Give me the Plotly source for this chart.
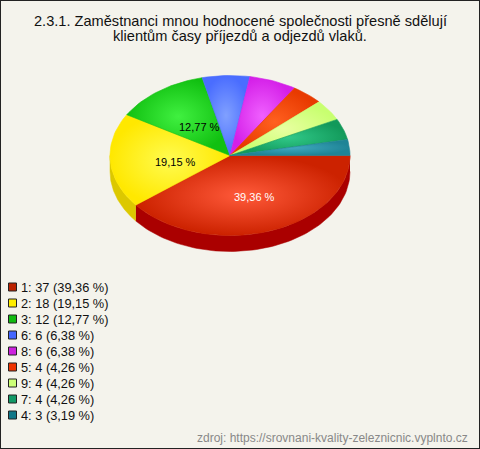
import numpy as np
import plotly.graph_objects as go

# ---- data ----
labels = ["1", "2", "3", "6", "8", "5", "9", "7", "4"]
counts = [37, 18, 12, 6, 6, 4, 4, 4, 3]
pct_text = ["39,36 %", "19,15 %", "12,77 %", "6,38 %", "6,38 %",
            "4,26 %", "4,26 %", "4,26 %", "3,19 %"]
top_colors = ["#cc2200", "#ffe800", "#11c011", "#4a6dff", "#d41fe8",
              "#e83a00", "#c8ff70", "#12995a", "#1f8496"]
light_colors = ["#ff5a3a", "#fffb50", "#40f040", "#80a0ff", "#f060ff",
                "#ff6020", "#e8ffa0", "#30c888", "#40aac0"]
side_colors = ["#aa0000", "#dcc800", "#0a900a", "#3050cc", "#a010b8",
               "#b82800", "#a0d050", "#0a7040", "#106070"]
legend_colors = ["#bb2200", "#ffee00", "#11bb11", "#4466ff", "#cc22dd",
                 "#ee3300", "#ccff77", "#119966", "#117788"]
title_lines = ["2.3.1. Zaměstnanci mnou hodnocené společnosti přesně sdělují",
               "klientům časy příjezdů a odjezdů vlaků."]
source_text = "zdroj: https://srovnani-kvality-zeleznicnic.vyplnto.cz"

# ---- geometry (pixel space) ----
W, H = 480, 449
cx, cy, rx, ry, depth = 230, 155.5, 120, 80, 16

vals = np.array(counts, dtype=float)
frac = vals / vals.sum()
ends = np.cumsum(frac) * 2 * np.pi
starts = ends - frac * 2 * np.pi

fig = go.Figure()

# side walls (front half only)
for i in range(len(counts)):
    a1, a2 = max(starts[i], 0), min(ends[i], np.pi)
    if a2 <= a1:
        continue
    t = np.linspace(a1, a2, 80)
    xs = cx + rx * np.cos(t)
    ys = cy + ry * np.sin(t)
    px = np.concatenate([xs, xs[::-1]])
    py = np.concatenate([ys, ys[::-1] + depth])
    fig.add_trace(go.Scatter(x=px, y=py, mode="lines", fill="toself",
                             fillcolor=side_colors[i],
                             line=dict(color=side_colors[i], width=0.5),
                             hoverinfo="skip", showlegend=False))

# top faces
for i in range(len(counts)):
    t = np.linspace(starts[i], ends[i], max(8, int(200 * frac[i])))
    px = np.concatenate([[cx], cx + rx * np.cos(t), [cx]])
    py = np.concatenate([[cy], cy + ry * np.sin(t), [cy]])
    fig.add_trace(go.Scatter(
        x=px, y=py, mode="lines", fill="toself",
        fillcolor=top_colors[i],
        fillgradient=dict(type="radial",
                          colorscale=[[0, light_colors[i]], [1, top_colors[i]]]),
        line=dict(color=top_colors[i], width=0.6),
        hoverinfo="skip", showlegend=False))

# percent labels on big slices
for i in range(len(counts)):
    if frac[i] < 0.1:
        continue
    m = (starts[i] + ends[i]) / 2
    fig.add_annotation(x=cx + 0.5 * rx * np.cos(m) + 5,
                       y=cy + 0.5 * ry * np.sin(m) + 4,
                       text=pct_text[i], showarrow=False,
                       font=dict(family="Liberation Sans, Arial", size=11,
                                 color="white" if i == 0 else "black"))

# legend
lx = [12.5] * len(counts)
ly = [287 + 16 * i for i in range(len(counts))]
fig.add_trace(go.Scatter(x=lx, y=ly, mode="markers",
                         marker=dict(symbol="square", size=8,
                                     color=legend_colors,
                                     line=dict(color="#222222", width=1)),
                         hoverinfo="skip", showlegend=False))
for i in range(len(counts)):
    fig.add_annotation(x=19, y=ly[i], xanchor="left", yanchor="middle",
                       text=f"{labels[i]}: {counts[i]} ({pct_text[i]})",
                       showarrow=False,
                       font=dict(family="Liberation Sans, Arial", size=12.8,
                                 color="#111111"))

# title (two lines)
for k, line in enumerate(title_lines):
    fig.add_annotation(x=240, y=21 + 14.5 * k, xanchor="center", yanchor="middle",
                       text=line, showarrow=False,
                       font=dict(family="Liberation Sans, Arial", size=14.6,
                                 color="#111111"))
# source
fig.add_annotation(x=470, y=437.5, xanchor="right", yanchor="middle",
                   text=source_text, showarrow=False,
                   font=dict(family="Liberation Sans, Arial", size=12,
                             color="#888888"))

fig.update_layout(
    width=W, height=H, margin=dict(l=0, r=0, t=0, b=0),
    paper_bgcolor="#f4f3ec", plot_bgcolor="#f4f3ec",
    xaxis=dict(range=[0, W], visible=False, fixedrange=True),
    yaxis=dict(range=[H, 0], visible=False, fixedrange=True),
    shapes=[dict(type="rect", xref="paper", yref="paper", x0=0, y0=0,
                 x1=1, y1=1, line=dict(color="#222222", width=2),
                 fillcolor="rgba(0,0,0,0)")],
)

fig.write_html("out.html", config={"displayModeBar": False},
               post_script="document.body.style.margin='0';"
                           "document.body.style.padding='0';"
                           "document.body.style.overflow='hidden';")
